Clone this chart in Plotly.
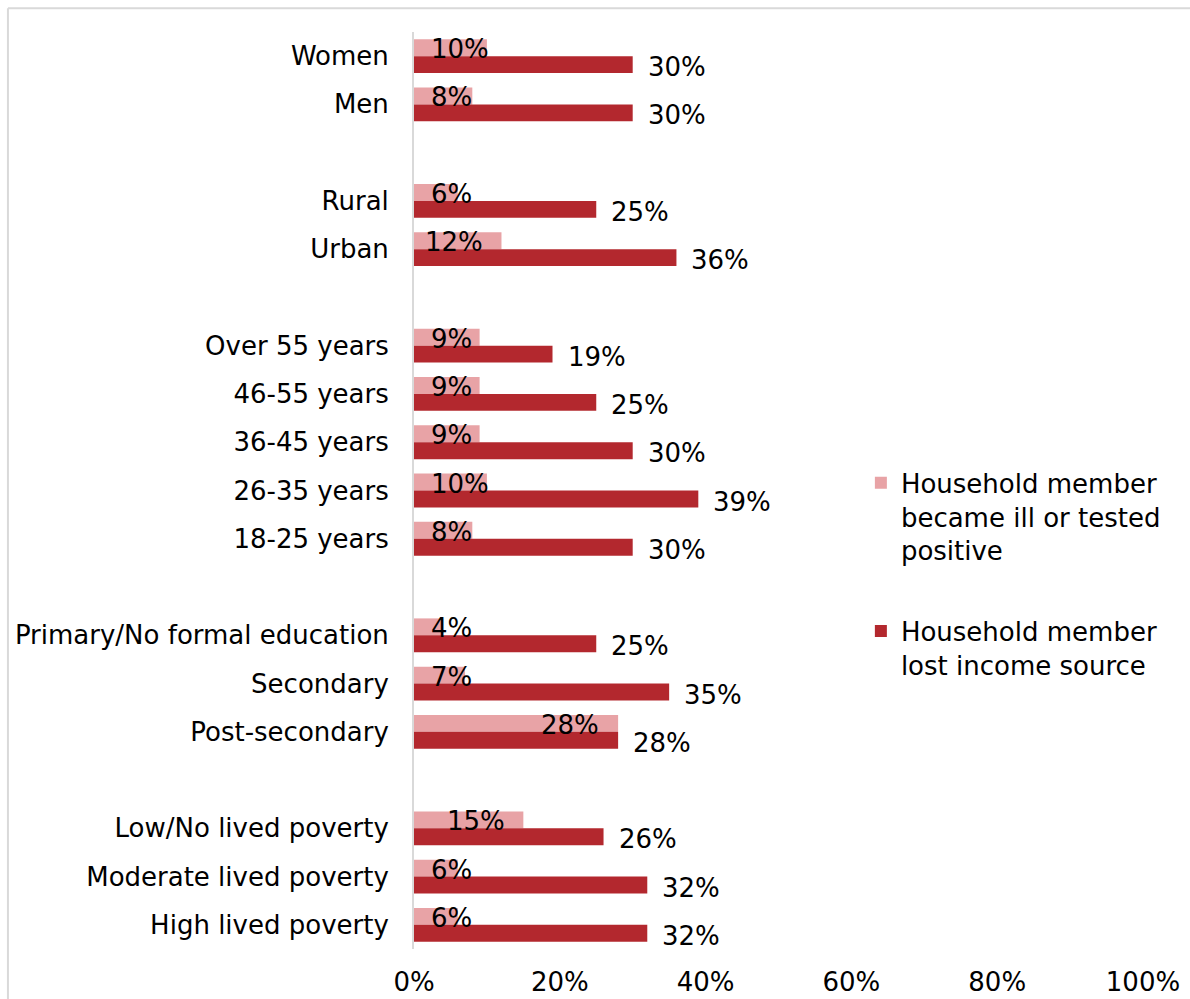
import plotly.graph_objects as go

# Survey breakdowns: each group is drawn as a block of rows, blocks separated by a blank row
groups = [
    ["Women", "Men"],
    ["Rural", "Urban"],
    ["Over 55 years", "46-55 years", "36-45 years", "26-35 years", "18-25 years"],
    ["Primary/No formal education", "Secondary", "Post-secondary"],
    ["Low/No lived poverty", "Moderate lived poverty", "High lived poverty"],
]
became_ill = [10, 8, 6, 12, 9, 9, 9, 10, 8, 4, 7, 28, 15, 6, 6]
lost_income = [30, 30, 25, 36, 19, 25, 30, 39, 30, 25, 35, 28, 26, 32, 32]
series_names = [
    "Household member<br>became ill or tested<br>positive",
    "Household member<br>lost income source",
]
x_ticks = [0, 20, 40, 60, 80, 100]

PINK = "#E8A3A6"
RED = "#B3282E"
FONT = "DejaVu Sans"
FS = 26

# row positions: one slot per category, one empty slot between blocks
categories, positions = [], []
pos = 0
for gi, g in enumerate(groups):
    if gi:
        pos += 1
    for c in g:
        categories.append(c)
        positions.append(pos)
        pos += 1
n_slots = pos

fig = go.Figure()
fig.add_trace(go.Bar(
    y=positions, x=became_ill, orientation="h", name=series_names[0],
    marker=dict(color=PINK, line=dict(width=0)), legendgroup="a",
    hoverinfo="x+text", hovertext=categories,
))
fig.add_trace(go.Bar(
    y=positions, x=lost_income, orientation="h", name=series_names[1],
    marker=dict(color=RED, line=dict(width=0)), legendgroup="b",
    hoverinfo="x+text", hovertext=categories,
))

annotations = []
label_font = dict(family=FONT, size=FS, color="black")
for p, v in zip(positions, became_ill):
    if v <= 10:
        annotations.append(dict(x=2.1, y=p, xanchor="left", yanchor="middle",
                                text=f"{v}%", showarrow=False, yshift=7,
                                font=label_font))
    else:
        annotations.append(dict(x=v - 2.3, y=p, xanchor="right", yanchor="middle",
                                text=f"{v}%", showarrow=False, yshift=7,
                                font=label_font))
for p, v in zip(positions, lost_income):
    annotations.append(dict(x=v, y=p, xanchor="left", yanchor="middle",
                            text=f"{v}%", showarrow=False, xshift=13, yshift=-11,
                            font=label_font))

border = dict(color="#D9D9D9", width=2)
fig.update_layout(
    width=1190, height=999,
    margin=dict(l=414, r=47, t=32, b=50, autoexpand=False),
    paper_bgcolor="white", plot_bgcolor="white",
    barmode="group", bargap=0.3, bargroupgap=0,
    font=dict(family=FONT, size=FS, color="black"),
    showlegend=True,
    legend=dict(
        x=0.613, y=0.534, xanchor="left", yanchor="top",
        font=dict(family=FONT, size=FS, color="black"),
        valign="top", tracegroupgap=44, traceorder="grouped",
        bgcolor="rgba(0,0,0,0)",
    ),
    annotations=annotations,
    shapes=[
        dict(type="line", xref="paper", yref="paper", x0=-0.557, x1=1.5,
             y0=1.026, y1=1.026, line=border, layer="below"),
        dict(type="line", xref="paper", yref="paper", x0=-0.557, x1=-0.557,
             y0=1.026, y1=-0.2, line=border, layer="below"),
    ],
)
fig.update_xaxes(
    range=[0, 100], tickvals=x_ticks, ticktext=[f"{t}%" for t in x_ticks],
    showgrid=False, zeroline=False, showline=False, ticks="", automargin=False,
    tickfont=dict(family=FONT, size=FS), ticklabelstandoff=15,
)
fig.update_yaxes(
    range=[n_slots - 0.5, -0.5], tickvals=positions, ticktext=categories,
    showgrid=False, zeroline=False, showline=True, linecolor="#D9D9D9", linewidth=2,
    ticks="", automargin=False,
    tickfont=dict(family=FONT, size=FS), ticklabelstandoff=18,
)

fig.write_html("out.html")
